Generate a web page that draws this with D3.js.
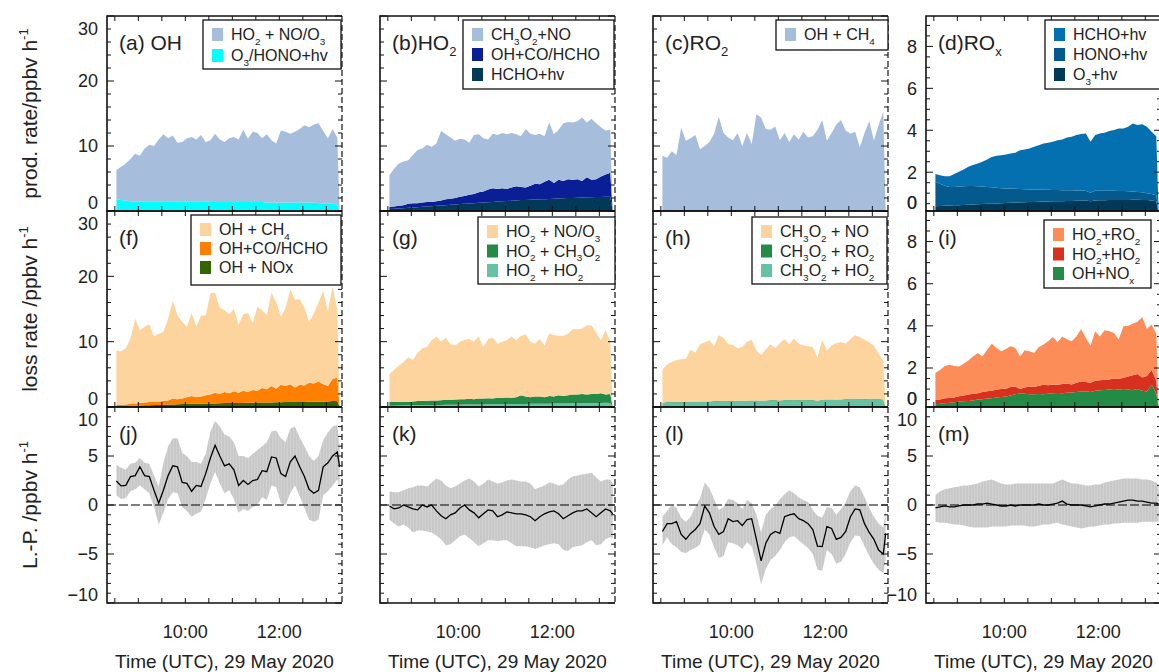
<!DOCTYPE html>
<html>
<head>
<meta charset="utf-8">
<script src="https://cdn.jsdelivr.net/npm/d3@7"></script>
<style>
  body { margin: 0; background: #fff; }
  svg text { font-family: "Liberation Sans", Arial, Helvetica, sans-serif; fill: #222; }
</style>
</head>
<body>
<svg id="fig" width="1159" height="672"></svg>
<script>
// time stamps (UTC, 29 May 2020)
const times = ["08:32","08:38","08:44","08:50","08:56","09:02","09:08","09:14","09:20","09:26",
  "09:32","09:38","09:44","09:50","09:56","10:02","10:08","10:14","10:20","10:26",
  "10:32","10:38","10:44","10:50","10:56","11:02","11:08","11:14","11:20","11:26",
  "11:32","11:38","11:44","11:50","11:56","12:02","12:08","12:14","12:20","12:26",
  "12:32","12:38","12:44","12:50","12:56","13:02","13:08","13:14","13:17"];

// stacked production / loss rates: top of each layer (ppbv h-1)
// (a) OH production
const aTotal = [6.3,6.8,7.3,8.0,8.8,8.5,9.6,10.2,10.0,11.0,11.8,11.2,11.6,10.5,10.6,11.2,11.4,11.0,11.7,10.6,10.9,11.9,11.0,10.6,11.2,11.4,11.0,12.5,11.1,12.2,12.0,11.2,11.8,10.9,10.4,12.4,12.2,11.9,12.2,12.6,13.2,12.9,13.3,13.5,12.3,11.2,12.6,11.3,0];
const aPhot = [1.8,1.7,1.6,1.5,1.5,1.5,1.5,1.5,1.5,1.5,1.5,1.5,1.5,1.5,1.5,1.5,1.5,1.5,1.5,1.5,1.4,1.4,1.4,1.4,1.4,1.4,1.4,1.4,1.4,1.4,1.4,1.4,1.3,1.3,1.3,1.3,1.3,1.3,1.3,1.3,1.3,1.3,1.3,1.2,1.2,1.1,1.1,1.0,0];
// (b) HO2 production
const bTotal = [5.5,6.5,7.3,7.6,7.8,8.6,9.4,9.6,10.2,9.9,10.4,12.3,11.8,11.3,10.8,11.1,11.0,10.5,11.7,11.8,11.2,11.0,11.9,11.7,12.0,11.8,12.0,11.8,11.5,12.6,11.9,11.7,11.9,11.5,13.6,11.8,12.5,13.5,13.7,13.6,13.8,14.4,13.6,14.2,13.5,12.9,12.4,12.5,0];
const bMid = [0.6,0.7,0.8,0.9,1.1,1.2,1.2,1.3,1.4,1.4,1.5,1.6,1.8,1.9,2.0,2.2,2.3,2.5,2.6,2.9,3.0,3.3,3.5,3.4,3.5,3.4,3.6,3.8,3.7,3.6,3.9,4.2,4.1,4.5,4.8,4.3,4.8,4.6,4.9,4.8,4.9,4.6,5.2,4.8,4.9,5.3,5.6,5.9,0];
const bLow = [0.3,0.35,0.4,0.42,0.5,0.55,0.58,0.65,0.7,0.74,0.8,0.86,0.9,0.95,1.0,1.06,1.1,1.14,1.2,1.26,1.3,1.33,1.4,1.45,1.5,1.52,1.58,1.62,1.68,1.7,1.74,1.78,1.8,1.82,1.86,1.9,1.92,1.95,2.0,2.0,2.04,2.06,2.1,2.1,2.14,2.16,2.2,2.2,0];
// (c) RO2 production
const cTotal = [8.5,8.2,9.2,8.6,12.8,10.8,11.2,11.7,9.5,10.0,10.6,11.9,14.5,12.0,11.3,10.9,12.0,10.0,12.0,10.3,14.9,14.4,12.6,12.5,13.0,10.9,12.0,10.6,11.8,11.0,12.2,11.3,11.5,12.5,14.0,10.8,12.0,13.3,14.0,12.4,11.9,12.2,9.8,12.0,13.8,10.9,13.2,15.3,0];
// (d) ROx production
const dTotal = [1.91,1.86,1.81,1.81,1.91,2.02,2.13,2.26,2.34,2.42,2.50,2.61,2.73,2.78,2.81,2.85,2.89,2.93,3.05,3.08,3.13,3.21,3.29,3.37,3.40,3.45,3.53,3.56,3.66,3.69,3.77,3.82,3.85,3.45,3.77,3.85,3.88,3.96,4.01,4.09,4.09,4.17,4.32,4.25,4.29,4.17,3.93,3.72,0];
const dMid = [1.54,1.45,1.35,1.30,1.30,1.32,1.33,1.34,1.34,1.33,1.32,1.30,1.28,1.26,1.24,1.22,1.22,1.21,1.20,1.19,1.18,1.18,1.17,1.16,1.16,1.15,1.15,1.14,1.14,1.14,1.13,1.13,1.12,1.02,1.12,1.12,1.12,1.11,1.11,1.10,1.10,1.09,1.08,1.06,1.04,1.00,0.96,0.90,0];
const dLow = [0.38,0.39,0.40,0.41,0.42,0.43,0.44,0.45,0.46,0.47,0.48,0.49,0.50,0.51,0.52,0.53,0.54,0.55,0.56,0.57,0.58,0.58,0.59,0.60,0.60,0.61,0.62,0.62,0.63,0.63,0.64,0.64,0.65,0.62,0.65,0.66,0.66,0.67,0.67,0.68,0.68,0.68,0.69,0.69,0.68,0.67,0.65,0.62,0];
// (f) OH loss
const fTotal = [8.7,8.5,9.0,10.5,13.5,11.8,12.3,12.7,10.8,11.2,11.5,13.5,16.3,14.0,13.0,12.3,14.4,12.3,14.0,14.0,17.4,17.5,15.2,14.8,14.2,15.0,12.6,14.2,14.4,12.8,15.3,14.8,14.1,17.5,16.0,13.8,15.2,18.0,16.4,16.5,15.2,13.0,14.3,16.0,17.8,14.5,18.5,14.8,0];
const fMid = [0.3,0.35,0.4,0.5,0.55,0.6,0.7,0.75,0.8,0.8,0.9,1.0,1.3,1.2,1.3,1.5,1.7,1.5,1.6,1.8,1.9,2.2,2.0,2.3,2.1,2.4,2.2,2.5,2.3,2.6,2.5,2.9,2.7,3.2,2.8,3.4,3.2,3.5,3.0,3.4,3.3,3.7,3.6,3.9,3.5,3.2,4.3,4.5,0];
const fLow = [0.1,0.12,0.15,0.18,0.2,0.22,0.25,0.28,0.3,0.32,0.35,0.37,0.4,0.42,0.45,0.45,0.48,0.5,0.5,0.52,0.55,0.55,0.58,0.6,0.6,0.6,0.62,0.62,0.65,0.65,0.68,0.68,0.7,0.7,0.72,0.72,0.75,0.75,0.75,0.78,0.78,0.8,0.8,0.82,0.82,0.85,0.9,0.9,0];
// (g) HO2 loss
const gTotal = [5.0,5.7,6.3,6.9,7.6,7.2,8.3,9.0,9.2,10.2,10.8,10.0,10.6,9.6,9.4,10.0,10.3,10.4,10.0,10.8,9.2,10.4,10.6,9.7,10.0,10.2,10.8,10.2,10.9,11.1,10.0,9.7,10.4,9.4,11.3,11.0,10.9,10.9,11.2,11.9,11.9,12.0,12.5,12.5,11.4,10.2,11.8,10.0,0];
const gMid = [0.8,0.8,0.8,0.75,0.8,0.85,0.9,0.9,0.95,1.0,1.0,1.05,1.1,1.1,1.15,1.2,1.2,1.25,1.2,1.3,1.3,1.35,1.3,1.4,1.4,1.45,1.4,1.5,1.8,1.6,1.5,1.6,1.6,1.5,1.7,1.6,1.8,1.7,1.8,1.9,1.9,2.0,1.9,2.0,2.0,2.1,1.9,2.0,0];
const gLow = [0.2,0.2,0.22,0.22,0.25,0.25,0.27,0.28,0.3,0.3,0.32,0.32,0.33,0.35,0.35,0.36,0.37,0.38,0.38,0.4,0.4,0.41,0.42,0.42,0.43,0.44,0.45,0.45,0.46,0.47,0.48,0.48,0.5,0.5,0.51,0.52,0.53,0.54,0.55,0.56,0.57,0.58,0.6,0.6,0.62,0.63,0.65,0.6,0];
// (h) RO2 loss
const hTotal = [5.7,6.5,6.9,7.2,7.3,7.4,8.8,8.3,9.6,9.9,10.2,9.3,11.0,10.6,9.6,9.5,9.0,9.2,10.0,10.3,8.6,8.0,8.8,9.6,9.0,9.8,10.4,9.6,10.5,9.7,9.4,9.3,9.2,7.5,10.3,8.7,9.4,9.8,9.9,9.7,10.4,11.0,10.7,10.3,9.9,9.4,8.2,7.0,0];
const hMid = [0.66,0.76,0.76,0.76,0.76,0.76,0.81,0.81,0.86,0.86,0.86,0.91,0.91,0.96,0.91,0.91,0.96,0.96,0.96,1.01,1.01,0.96,1.01,1.06,1.06,1.01,1.06,1.06,1.11,1.06,1.11,1.06,1.06,0.96,1.11,1.16,1.16,1.11,1.16,1.21,1.26,1.26,1.26,1.21,1.26,1.26,1.26,1.16,0];
const hLow = [0.6,0.7,0.7,0.7,0.7,0.7,0.75,0.75,0.8,0.8,0.8,0.85,0.85,0.9,0.85,0.85,0.9,0.9,0.9,0.95,0.95,0.9,0.95,1.0,1.0,0.95,1.0,1.0,1.05,1.0,1.05,1.0,1.0,0.9,1.05,1.1,1.1,1.05,1.1,1.15,1.2,1.2,1.2,1.15,1.2,1.2,1.2,1.1,0];
// (i) ROx loss
const iTotal = [1.76,1.91,2.10,2.15,2.10,2.07,2.20,2.36,2.55,2.71,2.55,2.87,3.15,2.95,2.79,2.90,3.03,2.95,2.55,2.84,2.79,2.71,3.00,3.11,3.27,3.47,3.22,3.50,3.35,3.27,3.50,3.85,3.42,3.06,3.74,3.50,3.79,3.74,3.66,3.35,3.98,4.01,4.10,4.20,4.42,3.85,4.06,3.63,0];
const iMid = [0.48,0.5,0.56,0.58,0.6,0.66,0.7,0.74,0.78,0.8,0.86,0.9,0.92,0.98,1.0,1.02,1.1,1.12,1.0,1.08,1.12,1.1,1.16,1.2,1.18,1.22,1.2,1.24,1.26,1.22,1.3,1.36,1.34,1.3,1.4,1.42,1.44,1.46,1.5,1.48,1.54,1.6,1.66,1.72,1.55,1.62,1.9,1.4,0];
const iLow = [0.28,0.3,0.33,0.35,0.38,0.4,0.42,0.44,0.46,0.5,0.52,0.55,0.56,0.6,0.62,0.65,0.7,0.75,0.8,0.78,0.76,0.75,0.77,0.76,0.78,0.8,0.82,0.8,0.83,0.84,0.86,0.88,0.9,0.86,0.92,0.95,0.96,0.98,1.0,0.97,1.0,0.98,0.95,1.0,0.92,0.88,1.2,0.8,0];

// loss minus production (mean, lower, upper)
const jMean = [2.45,1.95,2.0,2.9,3.0,3.9,3.0,2.9,1.5,0.2,1.5,3.0,4.0,3.9,2.3,2.2,1.4,2.0,1.9,3.2,4.8,6.1,5.0,4.0,4.2,3.6,2.0,2.5,2.1,2.5,2.6,3.5,3.4,4.9,4.8,3.2,2.9,4.4,5.0,3.9,2.9,1.6,1.2,1.5,3.9,4.3,5.0,5.4,3.9];
const jUp = [4.1,3.8,3.6,4.2,4.3,4.8,4.3,4.2,3.0,1.9,4.3,6.0,6.8,6.8,5.3,5.0,4.4,4.4,4.2,5.2,7.5,8.6,8.0,7.2,7.0,6.4,5.0,5.0,4.8,5.2,5.6,6.0,6.4,7.5,7.6,6.8,6.4,7.8,8.0,6.9,6.0,5.0,4.5,5.0,6.6,7.4,8.0,8.2,6.0];
const jLo = [1.0,0.6,0.7,1.4,1.6,2.0,1.6,1.2,-0.2,-2.0,-0.8,0.6,1.3,1.2,-0.2,-0.6,-1.2,-0.9,-0.7,0.6,2.2,3.4,2.2,1.2,1.5,0.6,-0.8,-0.4,-0.6,-0.2,0.0,0.8,0.5,2.0,1.8,0.2,0.0,1.2,2.0,0.9,-0.3,-1.5,-1.7,-1.5,1.0,1.4,2.0,2.6,1.9];
const kMean = [-0.1,-0.4,-0.3,0.0,-0.2,-0.4,-0.5,0.0,-0.2,0.0,-0.6,-1.1,-1.4,-1.0,-0.8,-0.3,0.0,-0.5,-0.8,-1.3,-0.9,-0.5,-0.6,-1.2,-1.0,-0.7,-0.8,-0.9,-0.9,-1.0,-1.2,-1.6,-1.2,-0.9,-0.7,-0.6,-0.9,-1.4,-1.1,-0.8,-0.6,-0.6,-0.4,-0.8,-1.2,-0.8,-0.4,-0.6,-0.9];
const kUp = [1.4,1.3,1.3,1.5,1.7,1.8,2.0,2.0,1.9,2.3,2.7,2.5,2.0,1.7,1.9,2.2,2.5,2.7,2.4,1.9,2.2,2.6,2.4,2.2,2.3,2.5,2.6,2.5,2.4,2.4,2.2,1.6,1.8,2.0,2.3,2.2,2.0,2.1,2.6,2.9,3.0,3.1,3.2,3.3,2.8,2.4,2.6,2.6,2.2];
const kLo = [-1.5,-1.9,-2.2,-2.0,-2.3,-2.8,-2.6,-2.6,-2.7,-2.8,-3.1,-3.5,-4.1,-4.0,-3.6,-3.2,-3.0,-3.4,-3.8,-4.2,-3.9,-3.6,-3.6,-3.7,-3.6,-3.6,-3.9,-4.2,-4.2,-4.2,-4.3,-4.5,-4.3,-4.1,-4.0,-3.9,-4.0,-4.6,-4.7,-4.3,-4.2,-4.1,-3.8,-3.6,-4.1,-4.0,-3.5,-3.3,-3.4];
const lMean = [-2.7,-1.9,-1.9,-1.7,-3.0,-3.5,-2.9,-2.5,-1.9,-0.1,-0.8,-2.2,-3.0,-2.7,-1.4,-1.7,-1.6,-2.1,-1.5,-1.4,-3.5,-5.7,-3.9,-3.0,-2.7,-2.9,-1.2,-1.0,-0.9,-1.4,-1.6,-1.9,-2.5,-4.2,-4.25,-2.2,-2.4,-3.5,-3.3,-2.7,-1.2,-0.4,-0.5,-1.9,-2.8,-3.5,-4.6,-5.0,-2.9];
const lUp = [-1.2,-0.6,0.0,-0.3,-1.3,-1.7,-1.2,-0.2,0.7,2.3,1.7,0.6,-0.5,-0.2,0.6,0.5,0.2,-0.4,0.5,0.2,-1.0,-2.8,-1.0,-0.4,-0.1,0.6,1.1,1.5,1.2,0.8,0.5,0.3,-0.5,-1.1,-1.3,-0.2,-0.3,-1.0,-0.4,0.3,1.4,2.0,1.8,0.8,-0.3,-1.2,-1.9,-2.3,-0.4];
const lLo = [-4.1,-3.3,-4.0,-4.3,-4.8,-4.9,-4.6,-4.4,-4.0,-2.5,-3.0,-4.3,-5.4,-5.2,-3.8,-3.9,-4.1,-4.5,-3.8,-4.2,-6.0,-8.1,-6.5,-5.6,-5.2,-4.6,-3.8,-3.3,-3.2,-3.6,-4.0,-4.4,-5.0,-6.6,-6.7,-4.6,-5.0,-6.0,-5.8,-5.0,-3.8,-3.1,-3.2,-4.2,-5.2,-6.0,-6.6,-7.0,-5.6];
const mMean = [-0.3,-0.2,-0.1,-0.2,-0.2,-0.1,0.0,0.0,0.0,0.1,0.1,0.2,0.1,0.0,-0.1,-0.1,0.0,-0.1,0.0,0.0,0.0,0.0,0.1,0.0,0.0,0.1,0.2,0.4,0.1,0.0,0.0,0.0,-0.1,-0.2,-0.1,0.0,0.1,0.1,0.2,0.3,0.4,0.5,0.5,0.4,0.4,0.3,0.2,0.2,0.1];
const mUp = [1.0,1.4,1.6,1.7,1.8,1.9,2.0,2.0,2.1,2.2,2.4,2.5,2.6,2.4,2.2,2.1,2.1,2.2,2.2,2.2,2.2,2.2,2.2,2.2,2.2,2.2,2.4,2.6,2.4,2.2,2.2,2.1,2.0,2.0,2.1,2.1,2.3,2.4,2.5,2.6,2.7,2.7,2.7,2.7,2.6,2.6,2.5,2.3,1.9];
const mLo = [-1.7,-1.8,-1.8,-1.9,-2.0,-2.0,-2.1,-2.2,-2.3,-2.3,-2.3,-2.3,-2.2,-2.2,-2.2,-2.2,-2.1,-2.1,-2.1,-2.1,-2.2,-2.2,-2.1,-2.0,-2.0,-1.9,-1.8,-2.0,-2.1,-2.2,-2.3,-2.4,-2.3,-2.2,-2.2,-2.1,-2.0,-2.0,-1.9,-1.9,-1.8,-1.8,-1.8,-1.8,-1.7,-1.7,-1.7,-1.7,-1.7];

const xTickLabels = ["10:00", "12:00"];
const rowTitles = ["prod. rate/ppbv h^{-1}", "loss rate /ppbv h^{-1}", "L.-P. /ppbv h^{-1}"];

// layout
const colLeft = [107, 380, 653, 926], panelW = 235;
const rowTop = [16, 211, 407], rowBot = [211, 407, 603];

const parse = d3.utcParse("%H:%M");
const T = times.map(parse);
const svg = d3.select("#fig");

// hatched grey band (vertical light lines)
const defs = svg.append("defs");
const pat = defs.append("pattern").attr("id", "band").attr("patternUnits", "userSpaceOnUse")
  .attr("width", 3).attr("height", 10);
pat.append("rect").attr("width", 3).attr("height", 10).attr("fill", "#c8c8c8");
pat.append("rect").attr("x", 2.2).attr("width", 0.6).attr("height", 10).attr("fill", "#dadada");

// text with _sub and ^super
function rich(sel, str, size) {
  const parts = str.split(/([_^]\{[^}]*\}|[_^].)/).filter(s => s);
  let shift = 0;
  parts.forEach(p => {
    let s = 0, t = p, fs = size;
    if (p[0] === "_") { s = 0.3 * size; t = p.slice(1).replace(/[{}]/g, ""); fs = size * 0.62; }
    else if (p[0] === "^") { s = -0.42 * size; t = p.slice(1).replace(/[{}]/g, ""); fs = size * 0.62; }
    sel.append("tspan").attr("dy", s - shift).attr("font-size", fs).text(t);
    shift = s;
  });
}

const cBlue = "#a6bddb", cPeach = "#fdd49e";
const panels = [
  { col: 0, row: 0, label: "(a) OH", levels: [aPhot, aTotal], colors: ["#00ffff", cBlue],
    legend: { x: 203, y: 20, w: 138, h: 49, dy: 21 }, items: [["HO_2 + NO/O_3", cBlue], ["O_3/HONO+hv", "#00ffff"]] },
  { col: 1, row: 0, label: "(b)HO_2", levels: [bLow, bMid, bTotal], colors: ["#023858", "#0a1e96", cBlue],
    legend: { x: 463, y: 20, w: 151, h: 69, dy: 20 }, items: [["CH_3O_2+NO", cBlue], ["OH+CO/HCHO", "#0a1e96"], ["HCHO+hv", "#023858"]] },
  { col: 2, row: 0, label: "(c)RO_2", levels: [cTotal], colors: [cBlue],
    legend: { x: 776, y: 20, w: 112, h: 30, dy: 20 }, items: [["OH + CH_4", cBlue]] },
  { col: 3, row: 0, label: "(d)RO_x", levels: [dLow, dMid, dTotal], colors: ["#023858", "#045a8d", "#0570b0"],
    legend: { x: 1045, y: 20, w: 116, h: 69, dy: 20 }, items: [["HCHO+hv", "#0570b0"], ["HONO+hv", "#045a8d"], ["O_3+hv", "#023858"]] },
  { col: 0, row: 1, label: "(f)", levels: [fLow, fMid, fTotal], colors: ["#336600", "#ff7f00", cPeach],
    legend: { x: 191, y: 215, w: 150, h: 70, dy: 19 }, items: [["OH + CH_4", cPeach], ["OH+CO/HCHO", "#ff7f00"], ["OH + NOx", "#336600"]] },
  { col: 1, row: 1, label: "(g)", levels: [gLow, gMid, gTotal], colors: ["#66c2a4", "#238b45", cPeach],
    legend: { x: 478, y: 217, w: 137, h: 67, dy: 19.5 }, items: [["HO_2 + NO/O_3", cPeach], ["HO_2 + CH_3O_2", "#238b45"], ["HO_2 + HO_2", "#66c2a4"]] },
  { col: 2, row: 1, label: "(h)", levels: [hLow, hMid, hTotal], colors: ["#66c2a4", "#238b45", cPeach],
    legend: { x: 752, y: 217, w: 135, h: 67, dy: 19.5 }, items: [["CH_3O_2 + NO", cPeach], ["CH_3O_2 + RO_2", "#238b45"], ["CH_3O_2 + HO_2", "#66c2a4"]] },
  { col: 3, row: 1, label: "(i)", levels: [iLow, iMid, iTotal], colors: ["#238b45", "#d7301f", "#fc8d59"],
    legend: { x: 1044, y: 220, w: 107, h: 68, dy: 19.5 }, items: [["HO_2+RO_2", "#fc8d59"], ["HO_2+HO_2", "#d7301f"], ["OH+NO_x", "#238b45"]] },
  { col: 0, row: 2, label: "(j)", band: [jLo, jUp], mean: jMean },
  { col: 1, row: 2, label: "(k)", band: [kLo, kUp], mean: kMean },
  { col: 2, row: 2, label: "(l)", band: [lLo, lUp], mean: lMean },
  { col: 3, row: 2, label: "(m)", band: [mLo, mUp], mean: mMean }
];

panels.forEach((p, pi) => {
  const L = colLeft[p.col], R = L + panelW, top = rowTop[p.row], bot = rowBot[p.row];
  const x = d3.scaleUtc().domain([parse("08:20"), parse("13:20")]).range([L, R]);
  let dom, major, minor;
  if (p.row === 2) { dom = [-10, 10]; major = 5; minor = 1; }
  else if (p.col === 3) { dom = [0.15, 9.45]; major = 2; minor = 0.5; }
  else { dom = [0, 30]; major = 10; minor = 2; }
  const y = d3.scaleLinear().domain(dom).range([bot, top]);

  const g = svg.append("g");
  const cid = "clip" + pi;
  defs.append("clipPath").attr("id", cid).append("rect")
    .attr("x", L).attr("y", top).attr("width", panelW).attr("height", bot - top);
  const plot = g.append("g").attr("clip-path", `url(#${cid})`);

  if (p.levels) {
    p.levels.forEach((lev, k) => {
      const below = k > 0 ? p.levels[k - 1] : null;
      const area = d3.area()
        .x((d, i) => x(T[i]))
        .y0((d, i) => y(below ? below[i] : 0))
        .y1(d => y(d));
      plot.append("path").datum(lev).attr("d", area).attr("fill", p.colors[k]);
    });
  } else {
    const area = d3.area().x((d, i) => x(T[i])).y0((d, i) => y(p.band[0][i])).y1(d => y(d));
    plot.append("path").datum(p.band[1]).attr("d", area).attr("fill", "url(#band)");
    plot.append("line").attr("x1", L).attr("x2", R).attr("y1", y(0)).attr("y2", y(0))
      .attr("stroke", "#000").attr("stroke-width", 1.1).attr("stroke-dasharray", "9,3");
    const line = d3.line().x((d, i) => x(T[i])).y(d => y(d));
    plot.append("path").datum(p.mean).attr("d", line).attr("fill", "none")
      .attr("stroke", "#000").attr("stroke-width", 1.3);
  }

  // frame
  const fr = g.append("g").attr("stroke", "#111").attr("stroke-width", 1.6).attr("fill", "none");
  fr.append("path").attr("d", `M${R},${top}H${L}V${bot}H${R}`);
  fr.append("line").attr("x1", R).attr("x2", R).attr("y1", top).attr("y2", bot)
    .attr("stroke-width", 1.2).attr("stroke-dasharray", "6,3");

  // y ticks (both sides, inward)
  const tk = g.append("g").attr("stroke", "#111").attr("stroke-width", 1);
  const nMinor = Math.round((dom[1] - dom[0]) / minor) + 2;
  for (let n = -1; n < nMinor; n++) {
    const v = Math.ceil(dom[0] / minor) * minor + n * minor;
    if (v < dom[0] - 1e-9 || v > dom[1] + 1e-9) continue;
    const isMajor = Math.abs(v / major - Math.round(v / major)) < 1e-6;
    const len = isMajor ? 7 : 4;
    tk.append("line").attr("x1", L).attr("x2", L + len).attr("y1", y(v)).attr("y2", y(v));
    tk.append("line").attr("x1", R).attr("x2", R - len).attr("y1", y(v)).attr("y2", y(v));
  }
  // time ticks (top & bottom, every 30 min)
  x.ticks(d3.utcMinute.every(30)).forEach(t => {
    tk.append("line").attr("x1", x(t)).attr("x2", x(t)).attr("y1", bot).attr("y2", bot - 5);
    tk.append("line").attr("x1", x(t)).attr("x2", x(t)).attr("y1", top).attr("y2", top + 5);
  });

  // y tick labels on first and last column
  if (p.col === 0 || p.col === 3) {
    const vals = d3.range(Math.ceil(dom[0] / major - 0.1) * major, dom[1] + 1e-6, major);
    if (p.col === 3 && p.row < 2) vals.unshift(0);
    vals.forEach(v => {
      const cy = Math.max(top + 13, Math.min(bot - 8, y(v)));
      g.append("text").attr("x", L - 9).attr("y", cy).attr("dy", "0.35em")
        .attr("text-anchor", "end").attr("font-size", 18).text(d3.format("d")(v));
    });
  }

  // panel label
  const lb = g.append("text").attr("x", L + 12).attr("y", top + 34).attr("font-size", 21);
  rich(lb, p.label, 21);

  // legend
  if (p.legend) {
    const lg = p.legend;
    g.append("rect").attr("x", lg.x).attr("y", lg.y).attr("width", lg.w).attr("height", lg.h)
      .attr("fill", "#fff").attr("stroke", "#111").attr("stroke-width", 1.3);
    p.items.forEach((it, k) => {
      const cy = lg.y + 14 + k * lg.dy;
      g.append("rect").attr("x", lg.x + 9).attr("y", cy - 6).attr("width", 11).attr("height", 13).attr("fill", it[1]);
      const t = g.append("text").attr("x", lg.x + 28).attr("y", cy + 6).attr("font-size", 16);
      rich(t, it[0], 16);
    });
  }

  // bottom time labels
  if (p.row === 2) {
    xTickLabels.forEach(s => {
      g.append("text").attr("x", x(parse(s))).attr("y", 638).attr("text-anchor", "middle")
        .attr("font-size", 18).text(s);
    });
    g.append("text").attr("x", (L + R) / 2).attr("y", 668).attr("text-anchor", "middle")
      .attr("font-size", 19).text("Time (UTC), 29 May 2020");
  }
});

// row titles
rowTitles.forEach((s, r) => {
  const t = svg.append("text").attr("text-anchor", "middle").attr("font-size", 21)
    .attr("transform", `translate(37,${(rowTop[r] + rowBot[r]) / 2}) rotate(-90)`);
  rich(t, s, 21);
});
</script>
</body>
</html>
